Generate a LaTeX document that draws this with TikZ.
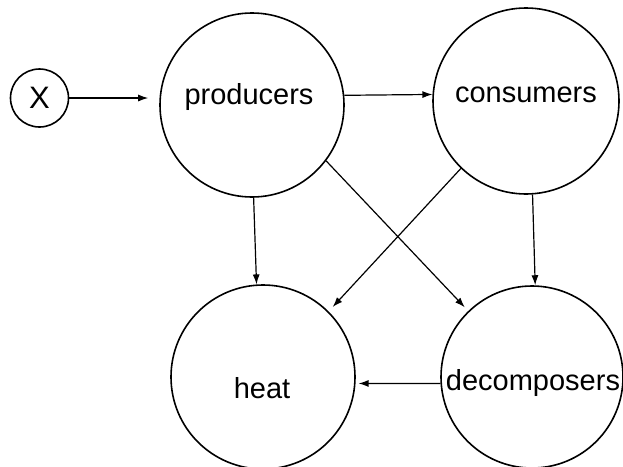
\documentclass[tikz,border=0pt]{standalone}
\usepackage{fontspec}
\setmainfont{Liberation Sans}
\usetikzlibrary{arrows.meta}
\begin{document}
\begin{tikzpicture}[x=1pt,y=-1pt,
  circ/.style={draw, circle, line width=1.6pt, inner sep=0pt},
  lbl/.style={font=\fontsize{29}{32}\selectfont, inner sep=0pt},
  arr/.style={line width=1.2pt, -{Latex[length=10pt,width=7pt]}}]
\useasboundingbox (0,0) rectangle (623,466);
\clip (0,0) rectangle (623,466);
\node[circ, minimum size=58pt] (X) at (39.5,98) {};
\node[lbl, font=\fontsize{31}{34}\selectfont] (Xt) at (39.5,98) {X};
\node[circ, minimum size=184pt] (prod) at (252,105) {};
\node[lbl] (prodt) at (249,97) {producers};
\node[circ, minimum size=186pt] (cons) at (526,101) {};
\node[lbl] (const) at (526,95) {consumers};
\node[circ, minimum size=184pt] (heat) at (263,377) {};
\node[lbl] (heatt) at (262,388) {heat};
\node[circ, minimum size=182pt] (dec) at (532,377) {};
\node[lbl] (dect) at (533,383) {decomposers};
\draw[arr, shorten >=11pt] (X.east) -- (X.east -| prod.west);
\draw[arr] (prod.6) -- (cons.176);
\draw[arr] (prod.-89) -- (heat.94);
\draw[arr] (cons.-86) -- (dec.88);
\draw[arr, shorten >=5pt] (prod.-37) -- (dec.134);
\draw[arr, shorten >=6pt] (cons.-134) -- (heat.45);
\draw[arr, shorten >=3pt] (dec.184) -- (heat.-4);
\end{tikzpicture}
\end{document}
